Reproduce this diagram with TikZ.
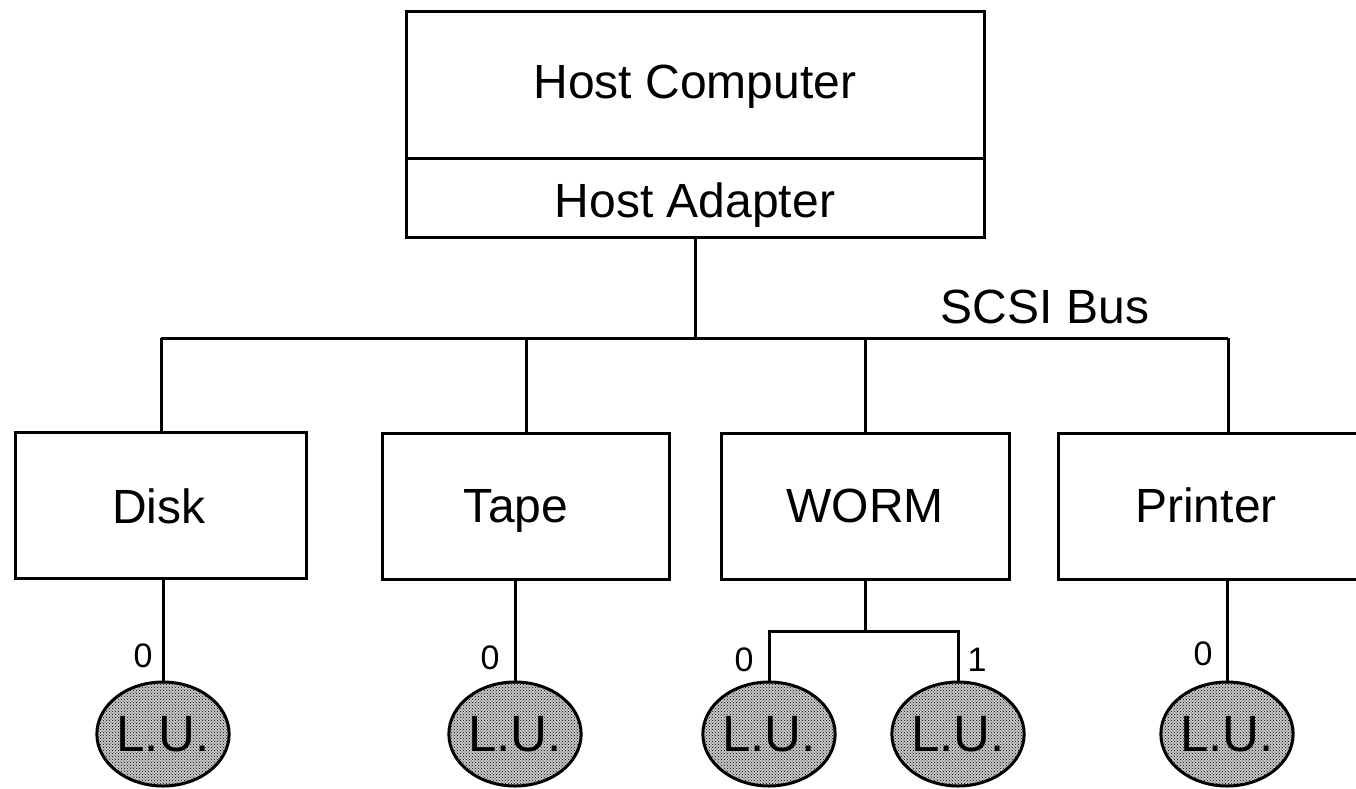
\documentclass[tikz,border=0pt]{standalone}
\usepackage{fontspec}
\setmainfont{Liberation Sans}
\usetikzlibrary{shapes.geometric,patterns}
\tikzset{
  wire/.style={line width=3pt},
  devbox/.style={draw, line width=3pt, rectangle, inner sep=0pt,
    minimum height=146pt},
  bigtext/.style={inner sep=0pt, anchor=base, font=\fontsize{48}{56}\selectfont},
  lunlabel/.style={inner sep=0pt, anchor=base, font=\fontsize{34}{40}\selectfont},
  lunit/.style={draw, line width=3pt, ellipse, inner sep=0pt,
    minimum width=132pt, minimum height=104pt,
    preaction={fill=black!22},
    pattern=crosshatch dots, pattern color=black,
    font=\fontsize{51}{58}\selectfont},
}
\begin{document}
\begin{tikzpicture}[x=1pt, y=-1pt]
  \useasboundingbox (0,0) rectangle (1356,788);
  \clip (0,0) rectangle (1356,788);

  % host computer with its adapter
  \node[draw, line width=3pt, rectangle, inner sep=0pt,
        minimum width=578pt, minimum height=226pt] (host) at (695,124) {};
  \coordinate (divl) at (406,158);
  \coordinate (divr) at (984,158);
  \draw[wire] (divl) -- (divr);
  \node[bigtext] (hosttxt) at (695,98) {Host Computer};
  \node[bigtext] (adaptxt) at (695,217) {Host Adapter};

  % the bus
  \coordinate (busl) at (161,338);
  \coordinate (busr) at (1228,338);
  \draw[wire] (busl) -- (busr);
  \draw[wire] (host.south) -- (host.south |- busl);
  \node[bigtext] (bustxt) at (1045,323) {SCSI Bus};

  % devices
  \node[devbox, minimum width=291pt] (disk)    at (161,505)  {};
  \node[devbox, minimum width=287pt] (tape)    at (526,506)  {};
  \node[devbox, minimum width=288pt] (worm)    at (865,506)  {};
  \node[devbox, minimum width=340pt] (printer) at (1228,506) {};
  \node[bigtext] (disktxt)  at (159,523)  {Disk};
  \node[bigtext] (tapetxt)  at (516,522)  {Tape};
  \node[bigtext] (wormtxt)  at (865,522)  {WORM};
  \node[bigtext] (printtxt) at (1206,522) {Printer};

  \foreach \d in {disk,tape,worm,printer}
    \draw[wire] (\d.north) -- (\d.north |- busl);

  % logical units
  \node[lunit] (lu1) at (163,734)  {L.U.};
  \node[lunit] (lu2) at (515,734)  {L.U.};
  \node[lunit] (lu3) at (769,734)  {L.U.};
  \node[lunit] (lu4) at (958,734)  {L.U.};
  \node[lunit] (lu5) at (1227,734) {L.U.};

  \draw[wire] (lu1.north) -- (lu1.north |- disk.south);
  \draw[wire] (lu2.north) -- (lu2.north |- tape.south);
  \draw[wire] (lu5.north) -- (lu5.north |- printer.south);
  \coordinate (wj) at (865,631);
  \draw[wire] (worm.south) -- (wj);
  \draw[wire] (lu3.north) |- (wj) -| (lu4.north);

  % unit numbers
  \node[lunlabel] (n1) at (143,667)  {0};
  \node[lunlabel] (n2) at (490,669)  {0};
  \node[lunlabel] (n3) at (744,671)  {0};
  \node[lunlabel] (n4) at (977,671)  {1};
  \node[lunlabel] (n5) at (1203,665) {0};
\end{tikzpicture}
\end{document}
